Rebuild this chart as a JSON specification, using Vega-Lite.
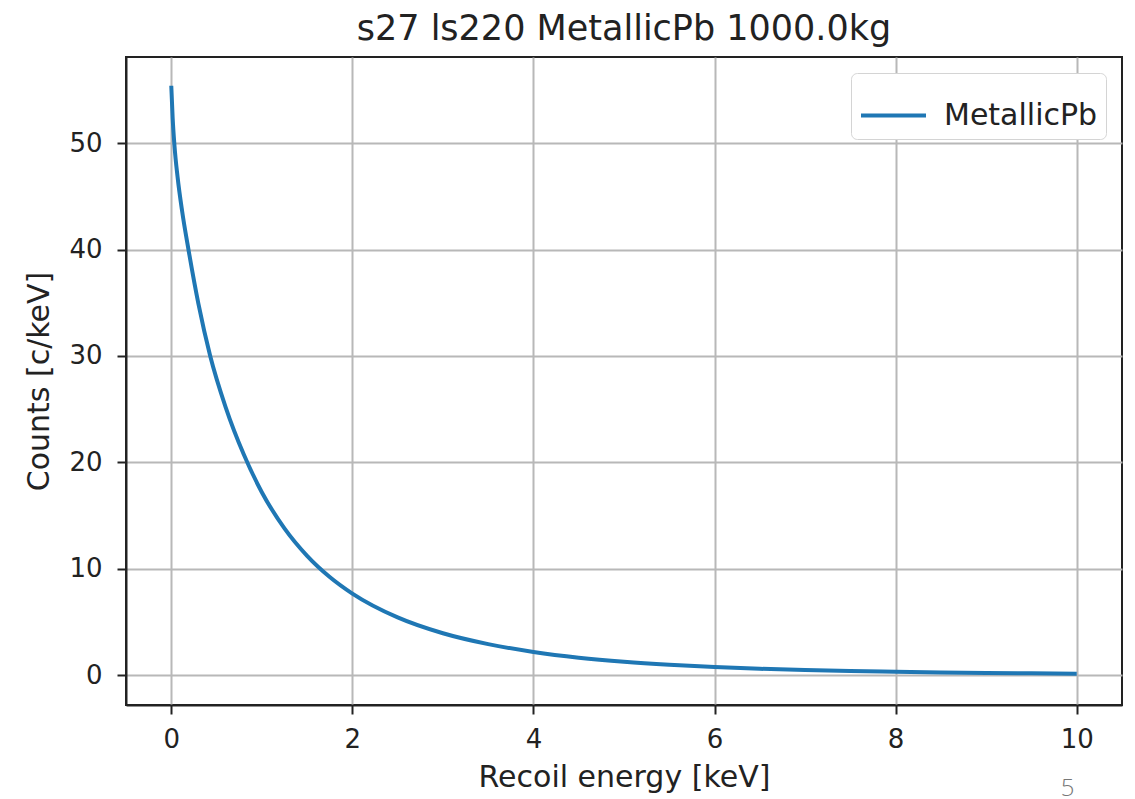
{
  "$schema": "https://vega.github.io/schema/vega-lite/v6.json",
  "autosize": {"type": "none"},
  "width": 996,
  "height": 648,
  "padding": {"left": 126, "top": 57, "right": 13, "bottom": 94},
  "background": "white",
  "config": {
    "font": "DejaVu Sans",
    "view": {"stroke": "#222", "strokeWidth": 2},
    "axis": {
      "labelFont": "DejaVu Sans", "labelFontSize": 26, "labelColor": "#222",
      "titleFont": "DejaVu Sans", "titleFontSize": 30, "titleColor": "#222", "titleFontWeight": "normal",
      "domainColor": "#222", "domainWidth": 2,
      "tickColor": "#222", "tickWidth": 2, "tickSize": 9,
      "gridColor": "#b8b8b8", "gridWidth": 2
    },
    "title": {"font": "DejaVu Sans", "fontSize": 35, "fontWeight": "normal", "color": "#222", "offset": 10}
  },
  "title": {"text": "s27 ls220 MetallicPb 1000.0kg", "anchor": "middle"},
  "layer": [
    {
      "data": {"values": [
        {"energy": 0.0, "counts": 55.4, "series": "MetallicPb"},
        {"energy": 0.015, "counts": 52.4, "series": "MetallicPb"},
        {"energy": 0.035, "counts": 49.8, "series": "MetallicPb"},
        {"energy": 0.07, "counts": 46.8, "series": "MetallicPb"},
        {"energy": 0.12, "counts": 43.6, "series": "MetallicPb"},
        {"energy": 0.19, "counts": 40.0, "series": "MetallicPb"},
        {"energy": 0.3, "counts": 34.9, "series": "MetallicPb"},
        {"energy": 0.43, "counts": 30.0, "series": "MetallicPb"},
        {"energy": 0.6, "counts": 25.2, "series": "MetallicPb"},
        {"energy": 0.8, "counts": 20.76, "series": "MetallicPb"},
        {"energy": 1.0, "counts": 17.2, "series": "MetallicPb"},
        {"energy": 1.25, "counts": 13.8, "series": "MetallicPb"},
        {"energy": 1.5, "counts": 11.22, "series": "MetallicPb"},
        {"energy": 1.75, "counts": 9.23, "series": "MetallicPb"},
        {"energy": 2.0, "counts": 7.67, "series": "MetallicPb"},
        {"energy": 2.5, "counts": 5.43, "series": "MetallicPb"},
        {"energy": 3.0, "counts": 3.94, "series": "MetallicPb"},
        {"energy": 3.5, "counts": 2.92, "series": "MetallicPb"},
        {"energy": 4.0, "counts": 2.19, "series": "MetallicPb"},
        {"energy": 4.5, "counts": 1.65, "series": "MetallicPb"},
        {"energy": 5.0, "counts": 1.26, "series": "MetallicPb"},
        {"energy": 5.5, "counts": 0.975, "series": "MetallicPb"},
        {"energy": 6.0, "counts": 0.76, "series": "MetallicPb"},
        {"energy": 6.5, "counts": 0.606, "series": "MetallicPb"},
        {"energy": 7.0, "counts": 0.486, "series": "MetallicPb"},
        {"energy": 7.5, "counts": 0.394, "series": "MetallicPb"},
        {"energy": 8.0, "counts": 0.321, "series": "MetallicPb"},
        {"energy": 8.5, "counts": 0.263, "series": "MetallicPb"},
        {"energy": 9.0, "counts": 0.215, "series": "MetallicPb"},
        {"energy": 9.5, "counts": 0.176, "series": "MetallicPb"},
        {"energy": 10.0, "counts": 0.144, "series": "MetallicPb"}
      ]},
      "mark": {"type": "line", "strokeWidth": 4, "interpolate": "monotone"},
      "encoding": {
        "x": {"field": "energy", "type": "quantitative",
          "scale": {"domain": [-0.5, 10.5], "nice": false, "zero": false},
          "axis": {"title": "Recoil energy [keV]", "values": [0, 2, 4, 6, 8, 10], "format": "d", "labelPadding": 12, "titlePadding": 10}},
        "y": {"field": "counts", "type": "quantitative",
          "scale": {"domain": [-2.8, 58.1], "nice": false, "zero": false},
          "axis": {"title": "Counts [c/keV]", "values": [0, 10, 20, 30, 40, 50], "format": "d", "labelPadding": 15, "titlePadding": 14}},
        "color": {"field": "series", "type": "nominal",
          "scale": {"range": ["#1f77b4"]},
          "legend": {
            "title": null, "orient": "top-right", "offset": 16,
            "symbolType": "stroke", "symbolSize": 4225, "symbolStrokeWidth": 4,
            "labelFont": "DejaVu Sans", "labelFontSize": 30, "labelColor": "#222",
            "padding": 8, "cornerRadius": 6, "strokeColor": "#d4d4d4", "fillColor": "white",
            "labelOffset": 16
          }}
      }
    },
    {
      "data": {"values": [{"page": "5"}]},
      "mark": {"type": "text", "fontSize": 24, "color": "#777", "font": "Open Sans", "fontWeight": 300, "baseline": "bottom"},
      "encoding": {
        "x": {"datum": 9.9, "type": "quantitative"},
        "y": {"datum": -11.8, "type": "quantitative"},
        "text": {"field": "page"}
      }
    }
  ]
}
